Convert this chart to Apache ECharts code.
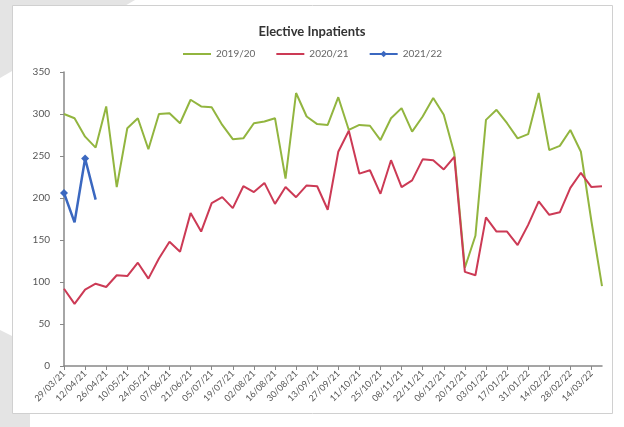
<!DOCTYPE html>
<html>
<head>
<meta charset="utf-8">
<script src="https://cdn.jsdelivr.net/npm/echarts@6/dist/echarts.min.js"></script>
<style>
  html, body { margin: 0; padding: 0; background: #fff; }
  #chart { width: 624px; height: 427px; }
</style>
</head>
<body>
<div id="chart"></div>
<script>
// week commencing dates
const weeks = [
  '29/03/21', '05/04/21', '12/04/21', '19/04/21', '26/04/21', '03/05/21', '10/05/21', '17/05/21',
  '24/05/21', '31/05/21', '07/06/21', '14/06/21', '21/06/21', '28/06/21', '05/07/21', '12/07/21',
  '19/07/21', '26/07/21', '02/08/21', '09/08/21', '16/08/21', '23/08/21', '30/08/21', '06/09/21',
  '13/09/21', '20/09/21', '27/09/21', '04/10/21', '11/10/21', '18/10/21', '25/10/21', '01/11/21',
  '08/11/21', '15/11/21', '22/11/21', '29/11/21', '06/12/21', '13/12/21', '20/12/21', '27/12/21',
  '03/01/22', '10/01/22', '17/01/22', '24/01/22', '31/01/22', '07/02/22', '14/02/22', '21/02/22',
  '28/02/22', '07/03/22', '14/03/22', '21/03/22'
];

const y2019 = [
  300, 295, 273, 260, 309, 213, 283, 295, 258, 300, 301, 289, 317, 309, 308, 287,
  270, 271, 289, 291, 295, 223, 325, 297, 288, 287, 320, 281, 287, 286, 269, 295,
  307, 279, 297, 319, 299, 253, 117, 155, 293, 305, 289, 271, 276, 325, 257, 262,
  281, 255, 172, 95
];

const y2020 = [
  92, 74, 91, 98, 94, 108, 107, 123, 104, 128, 148, 136, 182, 160, 194, 201,
  188, 214, 207, 218, 193, 213, 201, 215, 214, 186, 255, 280, 229, 233, 205, 245,
  213, 221, 246, 245, 234, 249, 112, 108, 177, 160, 160, 144, 168, 196, 180, 183,
  212, 230, 213, 214
];

const y2021 = [206, 171, 247, 198];

const font = 'Lato, "Liberation Sans", sans-serif';

const chart = echarts.init(document.getElementById('chart'));
chart.setOption({
  animation: false,
  backgroundColor: '#fff',
  textStyle: { fontFamily: font },
  title: {
    text: 'Elective Inpatients',
    left: 'center',
    top: 20,
    textStyle: { fontSize: 13, fontWeight: 'bold', color: '#333', fontFamily: font }
  },
  legend: {
    top: 44,
    left: 'center',
    itemWidth: 28,
    itemHeight: 8,
    itemGap: 20,
    textStyle: { fontSize: 10, color: '#666', fontFamily: font },
    data: [
      { name: '2019/20', itemStyle: { opacity: 0 } },
      { name: '2020/21', itemStyle: { opacity: 0 } },
      { name: '2021/22' }
    ]
  },
  graphic: [
    // grey page decoration behind the chart
    {
      type: 'polygon', z: -10, silent: true,
      shape: { points: [[0, 0], [135, 0], [0, 78]] },
      style: { fill: '#e4e4e4' }
    },
    {
      type: 'polygon', z: -10, silent: true,
      shape: { points: [[0, 330], [30, 345], [30, 427], [0, 427]] },
      style: { fill: '#e4e4e4' }
    },
    {
      type: 'rect', z: -5, silent: true,
      shape: { x: 12.5, y: 5.5, width: 600, height: 408 },
      style: { fill: '#fff', stroke: '#d0d0d0', lineWidth: 1 }
    }
  ],
  grid: { left: 64, right: 22, top: 72, bottom: 61 },
  xAxis: {
    type: 'category',
    data: weeks,
    boundaryGap: false,
    axisLine: { lineStyle: { color: '#888', width: 1.5 } },
    axisTick: { show: true, interval: 1, length: 4, lineStyle: { color: '#888' } },
    axisLabel: { interval: 1, rotate: 45, fontSize: 9, color: '#555', margin: 6, fontFamily: font },
    splitLine: { show: false }
  },
  yAxis: {
    type: 'value',
    min: 0,
    max: 350,
    interval: 50,
    axisLine: { show: true, lineStyle: { color: '#888', width: 1.5 } },
    axisTick: { show: true, length: 4, lineStyle: { color: '#888' } },
    axisLabel: { fontSize: 10, color: '#555', margin: 14, fontFamily: font },
    splitLine: { show: false }
  },
  series: [
    {
      name: '2019/20',
      type: 'line',
      data: y2019,
      symbol: 'none',
      lineStyle: { color: '#92b53f', width: 2 },
      itemStyle: { color: '#92b53f' }
    },
    {
      name: '2020/21',
      type: 'line',
      data: y2020,
      symbol: 'none',
      lineStyle: { color: '#cc3a55', width: 2 },
      itemStyle: { color: '#cc3a55' }
    },
    {
      name: '2021/22',
      type: 'line',
      data: y2021,
      symbol: 'diamond',
      symbolSize: 8,
      lineStyle: { color: '#3b68c0', width: 2.5 },
      itemStyle: { color: '#3b68c0' }
    }
  ]
});
</script>
</body>
</html>
